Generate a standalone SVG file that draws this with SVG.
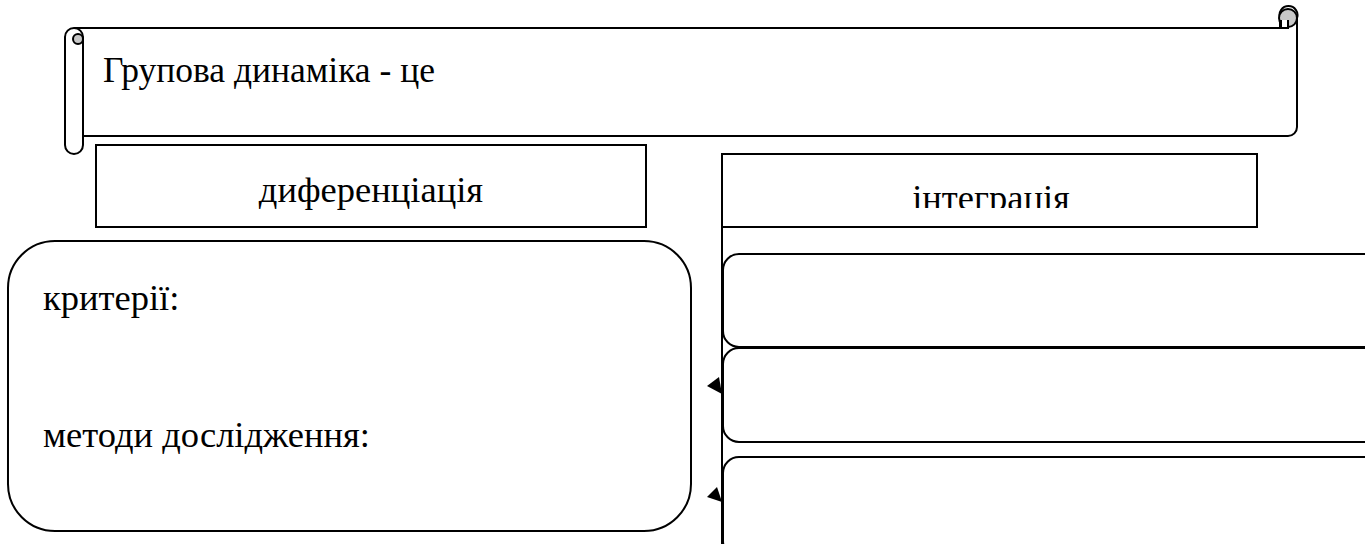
<svg xmlns="http://www.w3.org/2000/svg" width="1365" height="544" viewBox="0 0 1365 544">
<style>
.ln{fill:none;stroke:#000;stroke-width:2}
.bx{fill:#fff;stroke:#000;stroke-width:2}
.grey{fill:#c8c8c8;stroke:#000;stroke-width:2}
</style>
<defs>
<clipPath id="clipInt"><rect x="723" y="154" width="533" height="54"/></clipPath>
</defs>
<rect width="1365" height="544" fill="#fff"/>
<g font-family="Liberation Serif" font-size="36.5px" fill="#000">
<g id="scroll">
<path class="bx" d="M75,28 H1280 V18 A9,9 0 1 1 1297,18 V127 A9,9 0 0 1 1288,136 H83 Z"/>
<circle class="grey" cx="1288" cy="18" r="9"/>
<path d="M1281,20 V28 H1288 V20" fill="#fff" stroke="#000" stroke-width="2"/>
<rect class="bx" x="65" y="28" width="18" height="126" rx="9" ry="9"/>
<circle class="grey" cx="78" cy="39" r="5"/>
<text x="103" y="82" font-family="Liberation Serif, serif" font-size="35.5px">Групова динаміка - це</text>
</g>
<g id="diff">
<rect class="bx" x="96" y="145" width="550" height="82"/>
<text x="371" y="202" text-anchor="middle" font-family="Liberation Serif, serif">диференціація</text>
</g>
<g id="criteria">
<rect class="bx" x="8" y="241" width="683" height="290" rx="47" ry="47"/>
<text x="43" y="310" font-family="Liberation Serif, serif">критерії:</text>
<text x="43" y="447" font-family="Liberation Serif, serif">методи дослідження:</text>
</g>
<g id="integr">
<rect class="bx" x="722" y="154" width="535" height="73"/>
<text x="991" y="210" text-anchor="middle" clip-path="url(#clipInt)" font-family="Liberation Serif, serif">інтеграція</text>
</g>
<g id="box1"><rect class="bx" x="723" y="254" width="658" height="93" rx="16" ry="16"/></g>
<g id="box2"><rect class="bx" x="723" y="348" width="658" height="94" rx="16" ry="16"/></g>
<g id="box3"><rect class="bx" x="723" y="457" width="658" height="100" rx="16" ry="16"/></g>
<g id="connectors">
<line class="ln" x1="722" y1="227" x2="722" y2="544"/>
<polygon points="707,386 719,377 722,394" fill="#000"/>
<polygon points="707,497 717,487 722,502" fill="#000"/>
</g>
</g>
</svg>
